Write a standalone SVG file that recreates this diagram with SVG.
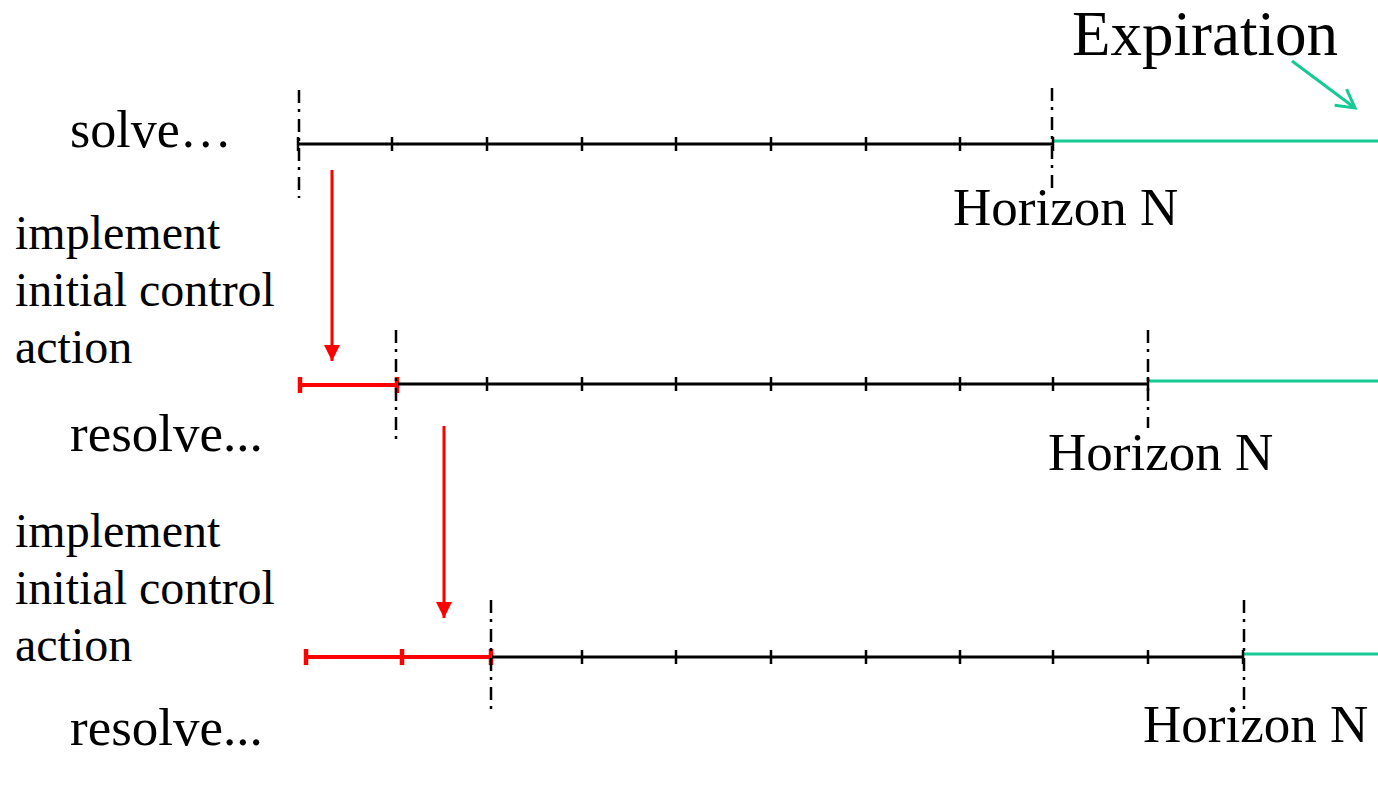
<svg xmlns="http://www.w3.org/2000/svg" width="1378" height="812" viewBox="0 0 1378 812">
  <style>
    .lbl { font-family: "Liberation Serif", "Times New Roman", serif; font-size: 48px; fill: #000; }
    .big { font-size: 53px; }
    .axis { stroke: #000; stroke-width: 2.8; fill: none; }
    .tick { stroke: #000; stroke-width: 2.5; }
    .dd { stroke: #000; stroke-width: 2.5; stroke-dasharray: 13 6 3 7; fill: none; }
    .ctl { stroke: #ff0000; stroke-width: 4; fill: none; }
    .ctick { stroke: #ff0000; stroke-width: 4.5; }
    .exp { stroke: #16c995; stroke-width: 3; fill: none; }
    .arr { stroke: #ff0000; stroke-width: 3; fill: none; }
  </style>
  <defs>
    <marker id="redHead" markerUnits="userSpaceOnUse" markerWidth="18" markerHeight="18" refX="16" refY="8" orient="auto">
      <path d="M0,0 L16,8 L0,16 Z" fill="#ff0000"/>
    </marker>
    <marker id="greenHead" markerUnits="userSpaceOnUse" markerWidth="26" markerHeight="26" refX="20" refY="12" orient="auto">
      <path d="M2,2 L20,12 L2,22" fill="none" stroke="#16c995" stroke-width="3"/>
    </marker>
  </defs>

  <!-- labels -->
  <g id="expiration">
    <text class="lbl" x="1072" y="55" style="font-size:63px">Expiration</text>
  </g>
  <g id="row1-labels">
    <text class="lbl big" x="70" y="147" style="font-size:52px">solve…</text>
    <text class="lbl big" x="953" y="225">Horizon N</text>
  </g>
  <g id="step1-labels">
    <text class="lbl" x="15" y="249">implement</text>
    <text class="lbl" x="15" y="306">initial control</text>
    <text class="lbl" x="15" y="363">action</text>
  </g>
  <g id="row2-labels">
    <text class="lbl big" x="70" y="451">resolve...</text>
    <text class="lbl big" x="1048" y="470">Horizon N</text>
  </g>
  <g id="step2-labels">
    <text class="lbl" x="15" y="547">implement</text>
    <text class="lbl" x="15" y="604">initial control</text>
    <text class="lbl" x="15" y="661">action</text>
  </g>
  <g id="row3-labels">
    <text class="lbl big" x="70" y="745">resolve...</text>
    <text class="lbl big" x="1143" y="742">Horizon N</text>
  </g>

  <!-- row 1: first solve -->
  <g id="row1">
    <line class="axis" x1="298" y1="144" x2="1053" y2="144"/>
    <line class="exp" x1="1053" y1="141" x2="1378" y2="141"/>
    <g class="tick">
      <line x1="298" y1="137" x2="298" y2="151"/>
      <line x1="392" y1="137" x2="392" y2="151"/>
      <line x1="487" y1="137" x2="487" y2="151"/>
      <line x1="582" y1="137" x2="582" y2="151"/>
      <line x1="676" y1="137" x2="676" y2="151"/>
      <line x1="771" y1="137" x2="771" y2="151"/>
      <line x1="866" y1="137" x2="866" y2="151"/>
      <line x1="960" y1="137" x2="960" y2="151"/>
      <line x1="1053" y1="137" x2="1053" y2="151"/>
    </g>
    <line class="dd" x1="299" y1="90" x2="299" y2="198"/>
    <line class="dd" x1="1052" y1="88" x2="1052" y2="188"/>
  </g>

  <!-- row 2: first resolve -->
  <g id="row2">
    <line class="ctl" x1="300" y1="385" x2="397" y2="385"/>
    <g class="ctick">
      <line x1="300" y1="377" x2="300" y2="393"/>
      <line x1="397" y1="377" x2="397" y2="393"/>
    </g>
    <line class="axis" x1="398" y1="384" x2="1148" y2="384"/>
    <line class="exp" x1="1148" y1="381" x2="1378" y2="381"/>
    <g class="tick">
      <line x1="487" y1="377" x2="487" y2="391"/>
      <line x1="582" y1="377" x2="582" y2="391"/>
      <line x1="676" y1="377" x2="676" y2="391"/>
      <line x1="771" y1="377" x2="771" y2="391"/>
      <line x1="866" y1="377" x2="866" y2="391"/>
      <line x1="960" y1="377" x2="960" y2="391"/>
      <line x1="1053" y1="377" x2="1053" y2="391"/>
      <line x1="1148" y1="377" x2="1148" y2="391"/>
    </g>
    <line class="dd" x1="396" y1="330" x2="396" y2="440"/>
    <line class="dd" x1="1148" y1="330" x2="1148" y2="428"/>
  </g>

  <!-- row 3: second resolve -->
  <g id="row3">
    <line class="ctl" x1="306" y1="657" x2="491" y2="657"/>
    <g class="ctick">
      <line x1="306" y1="649" x2="306" y2="665"/>
      <line x1="402" y1="649" x2="402" y2="665"/>
      <line x1="491" y1="649" x2="491" y2="665"/>
    </g>
    <line class="axis" x1="492" y1="657" x2="1243" y2="657"/>
    <line class="exp" x1="1243" y1="654" x2="1378" y2="654"/>
    <g class="tick">
      <line x1="582" y1="650" x2="582" y2="664"/>
      <line x1="676" y1="650" x2="676" y2="664"/>
      <line x1="771" y1="650" x2="771" y2="664"/>
      <line x1="866" y1="650" x2="866" y2="664"/>
      <line x1="960" y1="650" x2="960" y2="664"/>
      <line x1="1053" y1="650" x2="1053" y2="664"/>
      <line x1="1148" y1="650" x2="1148" y2="664"/>
      <line x1="1243" y1="650" x2="1243" y2="664"/>
    </g>
    <line class="dd" x1="491" y1="600" x2="491" y2="712"/>
    <line class="dd" x1="1244" y1="600" x2="1244" y2="712"/>
  </g>

  <!-- connectors -->
  <g id="connectors">
    <line class="arr" x1="332" y1="170" x2="332" y2="361" marker-end="url(#redHead)"/>
    <line class="arr" x1="444" y1="426" x2="444" y2="618" marker-end="url(#redHead)"/>
    <line class="exp" x1="1292" y1="61" x2="1355" y2="108" marker-end="url(#greenHead)"/>
  </g>
</svg>
